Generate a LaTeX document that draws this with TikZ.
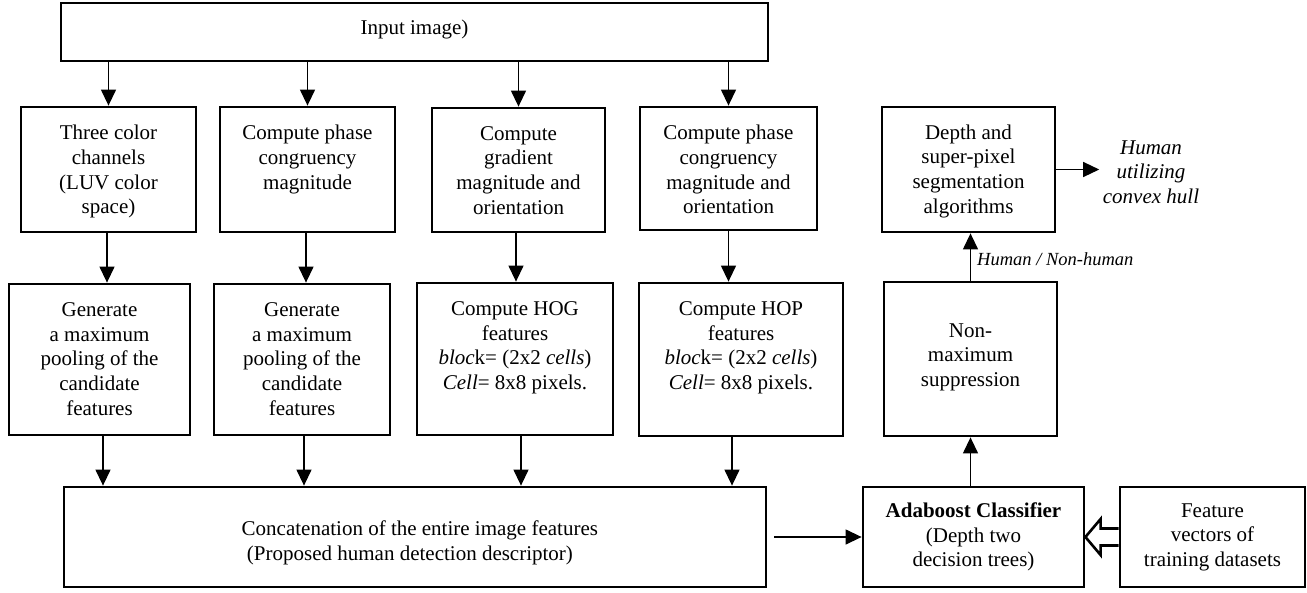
\documentclass[tikz,border=0pt]{standalone}
\usepackage{fontspec}
\setmainfont{Liberation Serif}
\usetikzlibrary{arrows.meta,calc}
\newcommand{\msz}{\fontsize{21}{24.6}\selectfont}
\newcommand{\ssz}{\fontsize{18.5}{22}\selectfont}
\begin{document}
\begin{tikzpicture}[x=1pt,y=-1pt,
  blk/.style={draw, line width=2.8pt, inner sep=0pt, font=\msz, align=center},
  txt/.style={font=\msz, align=center, inner sep=0pt},
  arr/.style={line width=1.3pt, -{Triangle[length=16pt,width=15pt]}},
  lbl/.style={font=\ssz\itshape, inner sep=0pt}]
\useasboundingbox (0,0) rectangle (1307,592);

% boxes
\node[blk, minimum width=707pt, minimum height=58pt, text depth=9pt] (in) at (414.5,32) {Input image)};
\node[blk, minimum width=175pt, minimum height=125pt] (b1) at (108.5,169.5) {};
\node[blk, minimum width=175pt, minimum height=125pt] (b2) at (307.5,169.5) {};
\node[blk, minimum width=173pt, minimum height=124pt] (b3) at (518.5,170) {};
\node[blk, minimum width=177pt, minimum height=123pt] (b4) at (728.5,168.5) {};
\node[blk, minimum width=181pt, minimum height=151pt] (c1) at (99.5,359.5) {};
\node[blk, minimum width=176pt, minimum height=151pt] (c2) at (302,359.5) {};
\node[blk, minimum width=196pt, minimum height=152pt] (c3) at (515,359) {};
\node[blk, minimum width=204pt, minimum height=153pt] (c4) at (741,359.5) {};
\node[blk, minimum width=702pt, minimum height=100pt] (cc) at (415,537) {};
\node[blk, minimum width=221pt, minimum height=100pt] (ada) at (973.5,537)
  {\textbf{Adaboost Classifier}\\(Depth two\\decision trees)};
\node[blk, minimum width=185pt, minimum height=100pt] (fv) at (1212.5,537)
  {Feature\\vectors of\\training datasets};
\node[blk, minimum width=173pt, minimum height=154pt] (nms) at (970.5,359) {};
\node[blk, minimum width=173pt, minimum height=125pt] (dep) at (968.5,169.5) {};

% texts
\node[txt, anchor=north] (tb1) at ([yshift=-19.5pt]b1.north) {Three color\\channels\\(LUV color\\space)};
\node[txt, anchor=north] (tb2) at ([yshift=-19.5pt]b2.north) {Compute phase\\congruency\\magnitude};
\node[txt, anchor=north] (tb3) at ([yshift=-19.5pt]b3.north) {Compute\\gradient\\magnitude and\\orientation};
\node[txt, anchor=north] (tb4) at ([yshift=-19.5pt]b4.north) {Compute phase\\congruency\\magnitude and\\orientation};
\node[txt, anchor=north] (tc1) at ([yshift=-20pt]c1.north) {Generate\\a maximum\\pooling of the\\candidate\\features};
\node[txt, anchor=north] (tc2) at ([yshift=-20pt]c2.north) {Generate\\a maximum\\pooling of the\\candidate\\features};
\node[txt, anchor=north] (tc3) at ([yshift=-20pt]c3.north) {Compute HOG\\features\\\textit{bloc}k= (2x2 \textit{cells})\\\textit{Cell}= 8x8 pixels.};
\node[txt, anchor=north] (tc4) at ([yshift=-20pt]c4.north) {Compute HOP\\features\\\textit{bloc}k= (2x2 \textit{cells})\\\textit{Cell}= 8x8 pixels.};
\node[txt, anchor=north west, align=left] (tcc) at (241.5,521)
  {Concatenation of the entire image features\\\hspace*{5.25pt}(Proposed human detection descriptor)};
\node[txt, anchor=north] (tnms) at ([yshift=-42.5pt]nms.north) {Non-\\maximum\\suppression};
\node[txt, anchor=north] (tdep) at ([yshift=-19pt]dep.north) {Depth and\\super-pixel\\segmentation\\algorithms};
\node[txt, font=\msz\itshape, inner sep=3.5pt] (out) at (1151,172) {Human\\utilizing\\convex hull};

% connectors
\draw[arr] (in.south -| b1.north) -- (b1.north);
\draw[arr] (in.south -| b2.north) -- (b2.north);
\draw[arr] (in.south -| b3.north) -- (b3.north);
\draw[arr] (in.south -| b4.north) -- (b4.north);

\draw[arr] ([xshift=-1.5pt]b1.south) -- ([xshift=-1.5pt]b1.south |- c1.north);
\draw[arr] ([xshift=-1.5pt]b2.south) -- ([xshift=-1.5pt]b2.south |- c2.north);
\draw[arr] ([xshift=-2.5pt]b3.south) -- ([xshift=-2.5pt]b3.south |- c3.north);
\draw[arr] (b4.south) -- (b4.south |- c4.north);

\draw[arr] ([xshift=3.5pt]c1.south) -- ([xshift=3.5pt]c1.south |- cc.north);
\draw[arr] ([xshift=2pt]c2.south) -- ([xshift=2pt]c2.south |- cc.north);
\draw[arr] ([xshift=6pt]c3.south) -- ([xshift=6pt]c3.south |- cc.north);
\draw[arr] ([xshift=-9pt]c4.south) -- ([xshift=-9pt]c4.south |- cc.north);

\draw[arr] ([xshift=7pt]cc.east) -- (ada.west);
\draw[arr] (ada.north -| nms.south) -- (nms.south);
\draw[arr] (nms.north) -- (nms.north |- dep.south);
\node[lbl, anchor=west] (hnh) at ($(nms.north)!0.5!(dep.south)+(7.5,2)$) {Human / Non-human};
\draw[arr] (dep.east) -- (dep.east -| out.west);

% hollow arrow from training features to classifier
\draw[line width=2.6pt, fill=white, line join=miter]
  ($(fv.west)+(0,-8.5)$) -- ($(fv.west)+(-18,-8.5)$) -- ($(fv.west)+(-18,-18)$)
  -- (ada.east) -- ($(fv.west)+(-18,18)$) -- ($(fv.west)+(-18,8.5)$) -- ($(fv.west)+(0,8.5)$);
\end{tikzpicture}
\end{document}
